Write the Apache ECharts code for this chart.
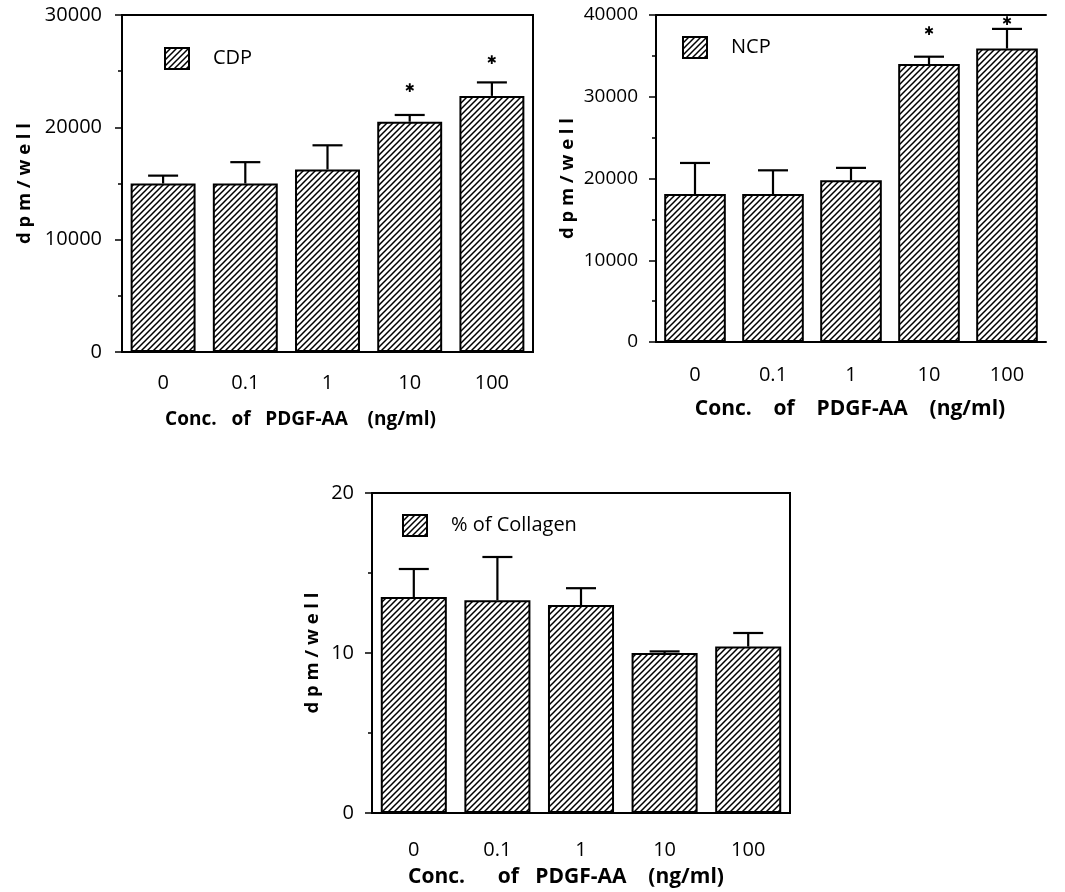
<!DOCTYPE html>
<html>
<head>
<meta charset="utf-8">
<script src="https://cdn.jsdelivr.net/npm/echarts@6/dist/echarts.min.js"></script>
<style>
  html, body { margin: 0; padding: 0; background: #fff; }
  #chart { width: 1065px; height: 892px; }
</style>
</head>
<body>
<div id="chart"></div>
<script>
// data
var concLabels = ['0', '0.1', '1', '10', '100'];

var cdpMean = [15000, 15000, 16250, 20500, 22800];
var cdpErr  = [15700, 16900, 18400, 21100, 24000];
var cdpStar = [[3, 23400], [4, 25900]];

var ncpMean = [18100, 18100, 19800, 34000, 35900];
var ncpErr  = [21900, 21000, 21300, 34900, 38300];
var ncpStar = [[3, 37900], [4, 39200]];

var colMean = [13.5, 13.3, 13.0, 10.0, 10.4];
var colErr  = [15.25, 16.0, 14.05, 10.1, 11.25];

var yTicks1 = { min: 0, max: 30000, interval: 10000 };
var yTicks2 = { min: 0, max: 40000, interval: 10000 };
var yTicks3 = { min: 0, max: 20, interval: 10 };

// the three panels space the x title a little differently
var xTitle1 = 'Conc.   of   PDGF-AA    (ng/ml)';
var xTitle2 = 'Conc.    of    PDGF-AA    (ng/ml)';
var xTitle3 = 'Conc.      of   PDGF-AA    (ng/ml)';

var FONT = '"Open Sans", "DejaVu Sans", sans-serif';

// hatch pattern  /////
function makeHatch() {
  var c = document.createElement('canvas');
  c.width = 6; c.height = 6;
  var ctx = c.getContext('2d');
  ctx.fillStyle = '#fff';
  ctx.fillRect(0, 0, 6, 6);
  ctx.strokeStyle = '#000';
  ctx.lineWidth = 1.5;
  ctx.beginPath();
  ctx.moveTo(-1, 7); ctx.lineTo(7, -1);
  ctx.moveTo(-1, 1); ctx.lineTo(1, -1);
  ctx.moveTo(5, 7); ctx.lineTo(7, 5);
  ctx.stroke();
  return c;
}
var hatch = { image: makeHatch(), repeat: 'repeat' };

var chart = echarts.init(document.getElementById('chart'));

function xAxisFor(idx, title, fontSize, nameGap, labelMargin, shiftLeft) {
  return {
    type: 'category',
    gridIndex: idx,
    data: concLabels,
    name: title,
    nameLocation: 'middle',
    nameGap: nameGap,
    nameTextStyle: {
      color: '#000', fontSize: fontSize, fontWeight: 'bold', fontFamily: FONT,
      padding: [0, shiftLeft * 2, 0, 0]
    },
    axisLine: { lineStyle: { color: '#000', width: 2 } },
    axisTick: { length: 5, lineStyle: { color: '#000', width: 1.5 } },
    axisLabel: { color: '#000', fontSize: 20, margin: labelMargin, fontFamily: FONT }
  };
}

function yAxisFor(idx, ticks, nameGap, labelMargin, labelSize) {
  return {
    type: 'value',
    gridIndex: idx,
    min: ticks.min,
    max: ticks.max,
    interval: ticks.interval,
    name: 'd p m / w e l l',
    nameLocation: 'middle',
    nameGap: nameGap,
    nameTextStyle: { color: '#000', fontSize: 18.5, fontWeight: 'bold', fontFamily: FONT },
    axisLine: { show: true, lineStyle: { color: '#000', width: 2 } },
    axisTick: { show: true, length: 7, lineStyle: { color: '#000', width: 1.5 } },
    minorTick: { show: true, splitNumber: 2, length: 4, lineStyle: { color: '#000', width: 1.5 } },
    splitLine: { show: false },
    axisLabel: {
      color: '#000', fontSize: labelSize, margin: labelMargin, fontFamily: FONT,
      formatter: function (v) { return String(v); }
    }
  };
}

function barSeries(name, idx, data) {
  return {
    name: name,
    type: 'bar',
    xAxisIndex: idx,
    yAxisIndex: idx,
    data: data,
    barCategoryGap: '21%',
    itemStyle: { color: hatch, borderColor: '#000', borderWidth: 2 },
    emphasis: { disabled: true },
    z: 2
  };
}

function errSeries(idx, mean, err) {
  return {
    type: 'custom',
    xAxisIndex: idx,
    yAxisIndex: idx,
    data: mean.map(function (m, i) { return [i, m, err[i]]; }),
    renderItem: function (params, api) {
      var p0 = api.coord([api.value(0), api.value(1)]);
      var p1 = api.coord([api.value(0), api.value(2)]);
      var s = { stroke: '#000', lineWidth: 2.2 };
      return {
        type: 'group',
        children: [
          { type: 'line', shape: { x1: p0[0], y1: p0[1], x2: p1[0], y2: p1[1] }, style: s },
          { type: 'line', shape: { x1: p1[0] - 15, y1: p1[1], x2: p1[0] + 15, y2: p1[1] }, style: s }
        ]
      };
    },
    z: 3
  };
}

function starSeries(idx, stars) {
  return {
    type: 'custom',
    xAxisIndex: idx,
    yAxisIndex: idx,
    data: stars,
    renderItem: function (params, api) {
      var p = api.coord([api.value(0), api.value(1)]);
      return {
        type: 'text',
        style: {
          text: '\u2731', x: p[0], y: p[1],
          align: 'center', verticalAlign: 'middle',
          font: '12px "DejaVu Sans"', fill: '#000'
        }
      };
    },
    z: 4
  };
}

function legendFor(name, left, top) {
  return {
    data: [name],
    left: left,
    top: top,
    itemWidth: 24,
    itemHeight: 21,
    icon: 'rect',
    selectedMode: false,
    itemStyle: { borderColor: '#000', borderWidth: 2 },
    textStyle: { color: '#000', fontSize: 20, fontFamily: FONT, padding: [0, 0, 0, 19] }
  };
}

var option = {
  backgroundColor: '#fff',
  animation: false,
  grid: [
    { left: 122, top: 15, width: 411, height: 337, show: true, borderColor: '#000', borderWidth: 2 },
    { left: 656, top: 15, width: 390, height: 327 },
    { left: 372, top: 493, width: 418, height: 320, show: true, borderColor: '#000', borderWidth: 2 }
  ],
  legend: [
    legendFor('CDP', 159, 42),
    legendFor('NCP', 677, 31),
    legendFor('% of Collagen', 397, 509)
  ],
  xAxis: [
    xAxisFor(0, xTitle1, 19, 58, 21, 27),
    xAxisFor(1, xTitle2, 21, 57, 23, 1),
    xAxisFor(2, xTitle3, 21, 54, 27, 15),
    {
      type: 'category', gridIndex: 1, position: 'top', data: concLabels,
      axisLine: { lineStyle: { color: '#000', width: 2 } },
      axisTick: { show: false }, axisLabel: { show: false }
    }
  ],
  yAxis: [
    yAxisFor(0, yTicks1, 88, 20, 20),
    yAxisFor(1, yTicks2, 79, 18, 19),
    yAxisFor(2, yTicks3, 50, 18, 20)
  ],
  series: [
    barSeries('CDP', 0, cdpMean),
    errSeries(0, cdpMean, cdpErr),
    starSeries(0, cdpStar),
    barSeries('NCP', 1, ncpMean),
    errSeries(1, ncpMean, ncpErr),
    starSeries(1, ncpStar),
    barSeries('% of Collagen', 2, colMean),
    errSeries(2, colMean, colErr)
  ]
};

chart.setOption(option);
</script>
</body>
</html>
